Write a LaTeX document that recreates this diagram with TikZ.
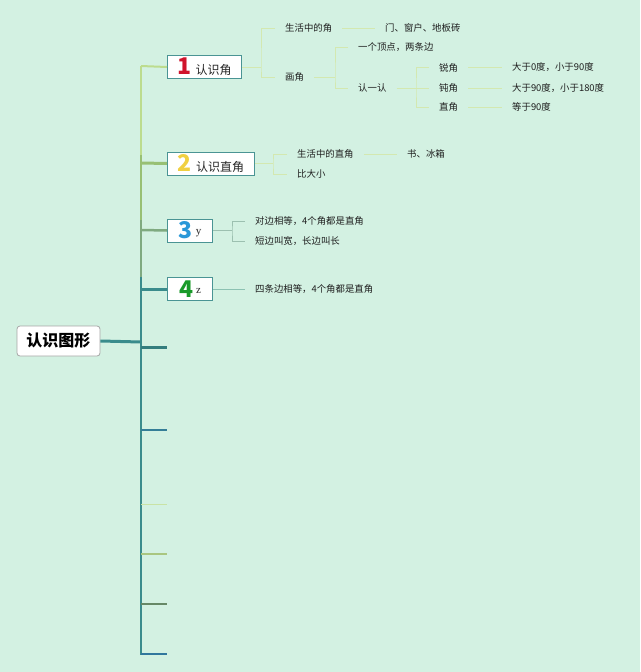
\documentclass[tikz,border=0pt]{standalone}
\usepackage{fontspec}
\setmainfont{Noto Sans CJK SC}
\newfontfamily\cjk{Noto Sans CJK SC}
\newfontfamily\serifl{Liberation Serif}
\usetikzlibrary{calc}
\definecolor{bgc}{HTML}{D3F1E2}
\definecolor{boxb}{HTML}{4A9494}
\definecolor{tr1}{HTML}{BCDC8E}
\definecolor{tr2}{HTML}{98C074}
\definecolor{tr3}{HTML}{7FAA80}
\definecolor{tr4}{HTML}{3A8C8C}
\definecolor{lc1}{HTML}{D3E8B0}
\definecolor{lc3}{HTML}{9CC0B0}
\definecolor{lc4}{HTML}{8CC2B2}
\definecolor{nred}{HTML}{D0142C}
\definecolor{nyel}{HTML}{F0D040}
\definecolor{nblu}{HTML}{2A98D8}
\definecolor{ngrn}{HTML}{1A9A2A}
\newcommand{\bignum}[2]{\textcolor{#1}{\cjk\bfseries\fontsize{23}{23}\selectfont #2}}
\tikzset{
  x=1pt,y=-1pt,
  topic/.style={draw=boxb,fill=white,line width=1pt,minimum height=23pt,inner xsep=5pt,inner ysep=0pt,font=\cjk\fontsize{12}{12}\selectfont,text=black!85},
  lbl/.style={inner xsep=10pt,inner ysep=1pt,font=\cjk\fontsize{9.4}{9.4}\selectfont,text=black!88},
  cl/.style={draw=lc1,line width=0.8pt},
}
\begin{document}
\begin{tikzpicture}
\fill[bgc] (0,0) rectangle (640,672);
\useasboundingbox (0,0) rectangle (640,672);

% root
\node[draw=black!35,fill=white,rounded corners=3pt,line width=0.8pt,minimum width=83pt,minimum height=30pt,font=\cjk\bfseries\fontsize{16}{16}\selectfont] (root) at (58.5,341) {认识图形};

% topics
\node[topic,anchor=west,minimum width=74pt] (t1) at (167,67) {\bignum{nred}{1}\hspace{4pt}认识角};
\node[topic,anchor=west,minimum width=87pt] (t2) at (167,163.5) {\bignum{nyel}{2}\hspace{4pt}认识直角};
\node[topic,anchor=west,minimum width=45pt] (t3) at (167,230.5) {\bignum{nblu}{3}\hspace{3pt}\raisebox{4pt}{\serifl\fontsize{11}{11}\selectfont y}};
\node[topic,anchor=west,minimum width=45pt] (t4) at (167,289) {\bignum{ngrn}{4}\hspace{3pt}\raisebox{4pt}{\serifl\fontsize{11}{11}\selectfont z}};

% trunk
\coordinate (jr) at (141,342);
\coordinate (tA) at (141,66);
\coordinate (tB) at (141,163);
\coordinate (tC) at (141,230);
\coordinate (tD) at (141,289);
\coordinate (tE) at (141,655);
\draw[tr1,line width=2pt] (tA) -- ($(tB)+(0,-8)$);
\draw[tr2,line width=2.5pt] ($(tB)+(0,-8)$) -- ($(tC)+(0,-10)$);
\draw[tr3,line width=2.5pt] ($(tC)+(0,-10)$) -- ($(tD)+(0,-12)$);
\draw[tr4,line width=2.5pt] ($(tD)+(0,-12)$) -- (tE);
\draw[tr4,line width=3pt] (root.east) -- (jr);

\draw[tr1,line width=2pt] (tA) -- (t1.west);
\draw[tr2,line width=3pt] (tB) -- (t2.west);
\draw[tr3,line width=2.5pt] (tC) -- (t3.west);
\draw[tr4,line width=3pt] (tD) -- (t4.west);

% empty branches
\coordinate (e1) at (141,347); \coordinate (f1) at (167,347);
\coordinate (e2) at (141,430); \coordinate (f2) at (167,430);
\coordinate (e3) at (141,504); \coordinate (f3) at (167,504);
\coordinate (e4) at (141,554); \coordinate (f4) at (167,554);
\coordinate (e5) at (141,604); \coordinate (f5) at (167,604);
\coordinate (e6) at (141,654); \coordinate (f6) at (167,654);
\draw[draw=tr4!90!black,line width=3pt] (e1) -- (f1);
\draw[draw=tr4!90!blue,line width=1.6pt] (e2) -- (f2);
\draw[draw=tr1!80!white,line width=1pt] (e3) -- (f3);
\draw[draw=tr1!90!black,line width=1.4pt] (e4) -- (f4);
\draw[draw=tr3!80!black,line width=1.8pt] (e5) -- (f5);
\draw[draw=tr4!85!blue,line width=1.8pt] (e6) -- (f6);

% --- topic 1 subtree
\node[lbl,anchor=west] (a1) at (275,28) {生活中的角};
\node[lbl,anchor=west] (a2) at (275,77) {画角};
\node[lbl,anchor=west] (a11) at (375,28) {门、窗户、地板砖};
\node[lbl,anchor=west] (b1) at (348,47) {一个顶点，两条边};
\node[lbl,anchor=west] (b2) at (348,88) {认一认};
\node[lbl,anchor=west] (c1) at (429,67.5) {锐角};
\node[lbl,anchor=west] (c2) at (429,88) {钝角};
\node[lbl,anchor=west] (c3) at (429,107) {直角};
\node[lbl,anchor=west] (d1) at (502,67.5) {大于0度，小于90度};
\node[lbl,anchor=west] (d2) at (502,88) {大于90度，小于180度};
\node[lbl,anchor=west] (d3) at (502,107) {等于90度};

\coordinate (k1) at (261,67);
\draw[cl] (t1.east) -- (k1);
\draw[cl] (a1.west) -| (k1) |- (a2.west);
\draw[cl] (a1.east) -- (a11.west);
\coordinate (k2) at (335,77);
\draw[cl] (a2.east) -- (k2);
\draw[cl] (b1.west) -| (k2) |- (b2.west);
\coordinate (k3) at (416,88);
\draw[cl] (b2.east) -- (k3);
\draw[cl] (c1.west) -| (k3) |- (c3.west);
\draw[cl] (k3) -- (c2.west);
\draw[cl] (c1.east) -- (d1.west);
\draw[cl] (c2.east) -- (d2.west);
\draw[cl] (c3.east) -- (d3.west);

% --- topic 2 subtree
\node[lbl,anchor=west] (g1) at (287,154) {生活中的直角};
\node[lbl,anchor=west] (g2) at (287,174) {比大小};
\node[lbl,anchor=west] (g11) at (397,154) {书、冰箱};
\coordinate (k4) at (273,163.5);
\draw[cl] (t2.east) -- (k4);
\draw[cl] (g1.west) -| (k4) |- (g2.west);
\draw[cl] (g1.east) -- (g11.west);

% --- topic 3 subtree
\node[lbl,anchor=west] (h1) at (245,221.5) {对边相等，4个角都是直角};
\node[lbl,anchor=west] (h2) at (245,241) {短边叫宽，长边叫长};
\coordinate (k5) at (232,230.5);
\draw[draw=lc3,line width=0.8pt] (t3.east) -- (k5);
\draw[draw=lc3,line width=0.8pt] (h1.west) -| (k5) |- (h2.west);

% --- topic 4 subtree
\node[lbl,anchor=west] (i1) at (245,289) {四条边相等，4个角都是直角};
\draw[draw=lc4,line width=0.8pt] (t4.east) -- (i1.west);
\end{tikzpicture}
\end{document}
